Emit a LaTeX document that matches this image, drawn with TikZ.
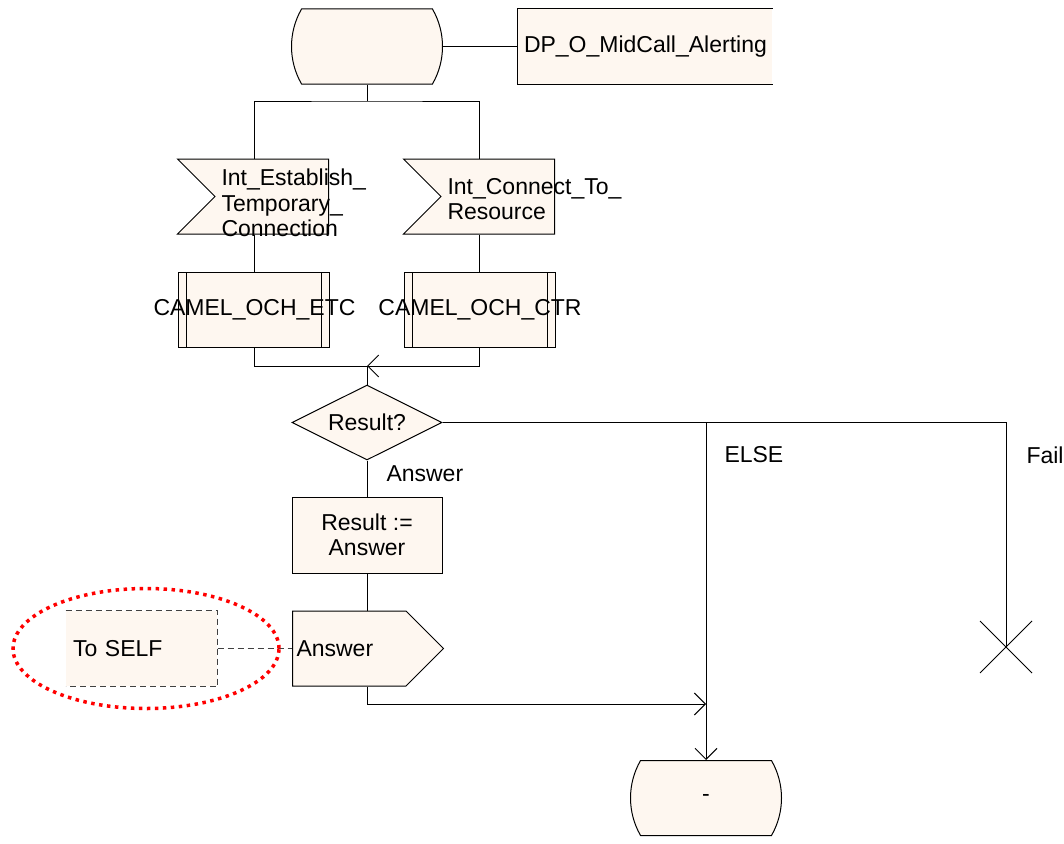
\documentclass[tikz,border=0pt]{standalone}
\usepackage{fontspec}
\setmainfont{Liberation Sans}
\usetikzlibrary{shapes.geometric,shapes.misc,shapes.symbols,arrows.meta}
\definecolor{sdlfill}{RGB}{254,247,240}

\begin{document}
\begin{tikzpicture}[x=1pt, y=-1pt, line width=1pt,
    every node/.style={font=\fontsize{23}{25.5}\selectfont},
    state/.style={rounded rectangle, rounded rectangle arc length=60, draw=black, fill=sdlfill,
        minimum width=151pt, minimum height=75pt, inner sep=0pt},
    sigin/.style={signal, signal from=west, signal to=nowhere, draw=black, fill=sdlfill,
        minimum width=151pt, minimum height=75pt, inner sep=0pt},
    sigout/.style={signal, signal to=east, signal from=nowhere, draw=black, fill=sdlfill,
        minimum width=151pt, minimum height=75pt, inner sep=0pt},
    proc/.style={rectangle, draw=black, fill=sdlfill, minimum width=151pt, minimum height=75pt, inner sep=0pt,
        path picture={
            \draw ([xshift=8pt]path picture bounding box.north west) -- ([xshift=8pt]path picture bounding box.south west);
            \draw ([xshift=-8pt]path picture bounding box.north east) -- ([xshift=-8pt]path picture bounding box.south east);}},
    task/.style={rectangle, draw=black, fill=sdlfill, minimum width=150pt, minimum height=76pt,
        inner sep=0pt, align=center},
    decision/.style={diamond, aspect=2, draw=black, fill=sdlfill, minimum width=150pt, minimum height=75pt,
        inner sep=0pt},
    note/.style={rectangle, fill=sdlfill, minimum width=151pt, minimum height=75pt, inner xsep=7pt,
        inner ysep=0pt, text width=137pt, align=left},
    txt/.style={inner sep=0pt, align=left},
    edge/.style={-},
    flow/.style={-{Straight Barb[length=11pt, width=22pt]}},
    remark/.style={dash pattern=on 6pt off 4pt, draw=black!75}
]
    \useasboundingbox (0,0) rectangle (1064,843);
    \node[state] (start) at (367,46.5) {};
    \node[note, minimum width=254pt, text width=242pt, inner xsep=6pt] (dp) at (645,46.5) {DP\_O\_MidCall\_Alerting};
    \node[sigin, anchor=east] (ete) at (329,196.5) {};
    \node[sigin, anchor=east] (ctr) at (555,196.5) {};
    \node[txt, anchor=west] (ete txt) at (221,203) {Int\_Establish\_\\Temporary\_\\Connection};
    \node[txt, anchor=west] (ctr txt) at (447,199) {Int\_Connect\_To\_\\Resource};
    \node[proc] (petc) at (254,309.5) {};
    \node[proc] (pctr) at (479.5,309.5) {};
    \node[txt] (petc txt) at (254.5,310) {CAMEL\_OCH\_ETC};
    \node[txt] (pctr txt) at (480,310) {CAMEL\_OCH\_CTR};
    \coordinate (fork) at (367,101);
    \coordinate (merge) at (367,366);
    \node[decision] (res) at (367,422.5) {Result?};
    \node[task] (assign) at (367,535) {Result :=\\Answer};
    \node[sigout, anchor=west] (ans) at (292,648.5) {};
    \node[txt, anchor=west] (ans txt) at (296,648.5) {Answer};
    \node[note] (self) at (141.5,648.5) {To SELF};
    \node[state] (end) at (706,798) {-};
    \coordinate (join) at (706,704);
    \coordinate (split) at (706,422.5);
    \coordinate (fail) at (1006,647);
    \node[txt, anchor=west] (lbl ans) at (386,474) {Answer};
    \node[txt, anchor=west] (lbl else) at (724,455) {ELSE};
    \node[txt, anchor=west] (lbl fail) at (1026,455) {Fail};
    \draw[edge] (start.east) -- (dp.west);
    \draw[edge] (dp.north east) -- (dp.north west) -- (dp.south west) -- (dp.south east);
    \draw[edge] (start.south) -- (fork);
    \draw[edge] (petc.north |- ete.north) |- (fork) -| (pctr.north |- ctr.north);
    \draw[edge] (petc.north |- ete.south) -- (petc.north);
    \draw[edge] (pctr.north |- ctr.south) -- (pctr.north);
    \draw[edge] (petc.south) |- (merge);
    \draw[flow] (pctr.south) |- (merge);
    \draw[edge] (merge) -- (res.north);
    \draw[edge] (res.south) -- (assign.north);
    \draw[edge] (assign.south) -- (assign.south |- ans.north);
    \draw[edge] (res.east) -| (fail);
    \draw[flow] (split) -- (end.north);
    \draw[flow] (assign.south |- ans.south) |- (join);
    \draw[remark] (self.east) -- (ans.west);
    \draw[remark] (self.north west) -- (self.north east) -- (self.south east) -- (self.south west);
    \draw[edge] ([shift={(-26,-26)}]fail) -- ([shift={(26,26)}]fail);
    \draw[edge] ([shift={(-26,26)}]fail) -- ([shift={(26,-26)}]fail);
    \draw[red, line width=3.5pt, dash pattern=on 3.5pt off 4.5pt] (146,648.5) ellipse [x radius=133pt, y radius=60pt];
\end{tikzpicture}
\end{document}
